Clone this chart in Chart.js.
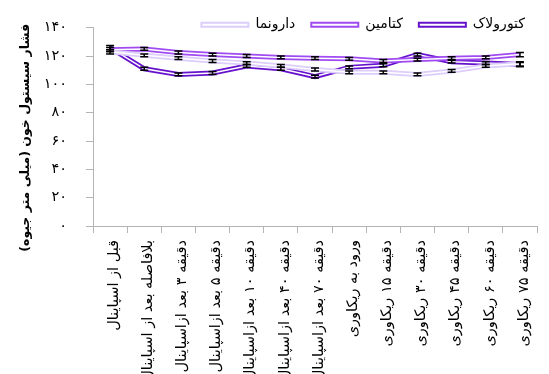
<!DOCTYPE html>
<html lang="fa">
<head>
<meta charset="utf-8">
<script src="https://cdn.jsdelivr.net/npm/chart.js@4.4.1/dist/chart.umd.min.js"></script>
<style>
  html, body { margin: 0; padding: 0; background: #ffffff; }
  canvas { display: block; }
</style>
</head>
<body>
<canvas id="bp" width="549" height="374" dir="rtl"></canvas>
<script>
// Time points of the measurement
const categories = [
  'قبل از اسپاینال',
  'بلافاصله بعد از اسپاینال',
  'دقیقه ۳ بعد ازاسپاینال',
  'دقیقه ۵ بعد ازاسپاینال',
  'دقیقه ۱۰ بعد ازاسپاینال',
  'دقیقه ۴۰ بعد ازاسپاینال',
  'دقیقه ۷۰ بعد ازاسپاینال',
  'ورود به ریکاوری',
  'دقیقه ۱۵ ریکاوری',
  'دقیقه ۳۰ ریکاوری',
  'دقیقه ۴۵ ریکاوری',
  'دقیقه ۶۰ ریکاوری',
  'دقیقه ۷۵ ریکاوری'
];

// Mean systolic pressure (mmHg) per group
const ketorolac = [126, 111, 107, 108, 113, 111, 105.5, 112, 113.5, 121, 116, 115, 114];
const ketamine  = [124.5, 125, 122.5, 121, 120, 119, 118.5, 118, 116.5, 117.5, 118.5, 119, 121];
const placebo   = [123, 120.5, 118.5, 116.5, 115, 113, 110.5, 108.5, 108.5, 107, 109.5, 113, 114.5];

// Error bar half-lengths (mmHg)
const ketorolacErr = [1.5, 1, 1, 1, 1, 1, 1, 1, 1, 1, 1, 1, 1.5];
const ketamineErr  = [1.5, 1, 1, 1, 1, 1, 1, 1, 1, 1, 1, 1, 1.5];
const placeboErr   = [1.5, 1, 1, 1, 1, 1, 1, 1, 1, 1, 1, 1, 1.5];

const seriesNames = ['کتورولاک', 'کتامین', 'دارونما'];
const yTickLabels = ['۰', '۲۰', '۴۰', '۶۰', '۸۰', '۱۰۰', '۱۲۰', '۱۴۰'];
const yAxisTitle = 'فشار سیستول خون (میلی متر جیوه)';

const FONT = "'DejaVu Sans', sans-serif";
const groups = [
  { name: seriesNames[0], data: ketorolac, err: ketorolacErr, color: '#6612cc' },
  { name: seriesNames[1], data: ketamine,  err: ketamineErr,  color: '#a04af2' },
  { name: seriesNames[2], data: placebo,   err: placeboErr,   color: '#dccdfb' }
];

// Each group is a wide coloured stroke with a thin white stroke on top (double line)
const datasets = [];
groups.forEach((g, i) => {
  const base = 10 - i * 2;
  datasets.push({
    label: g.name, data: g.data, borderColor: g.color, backgroundColor: '#ffffff',
    borderWidth: 5, pointRadius: 0, tension: 0, order: base, errors: g.err, main: true
  });
  datasets.push({
    label: '', data: g.data, borderColor: '#ffffff',
    borderWidth: 1.5, pointRadius: 0, tension: 0, order: base - 1
  });
});

const errorBars = {
  id: 'errorBars',
  afterDatasetsDraw(chart) {
    const ctx = chart.ctx;
    const y = chart.scales.y;
    ctx.save();
    ctx.strokeStyle = '#000000';
    ctx.lineWidth = 1.5;
    chart.data.datasets.forEach((ds, di) => {
      if (!ds.main) return;
      const meta = chart.getDatasetMeta(di);
      meta.data.forEach((pt, i) => {
        const top = y.getPixelForValue(ds.data[i] + ds.errors[i]);
        const bot = y.getPixelForValue(ds.data[i] - ds.errors[i]);
        ctx.beginPath();
        ctx.moveTo(pt.x, top); ctx.lineTo(pt.x, bot);
        ctx.moveTo(pt.x - 4, top); ctx.lineTo(pt.x + 4, top);
        ctx.moveTo(pt.x - 4, bot); ctx.lineTo(pt.x + 4, bot);
        ctx.stroke();
      });
    });
    ctx.restore();
  }
};

// The legend row sits tight above the plot: nudge it right and let its
// glyphs hang past the box bottom without being clipped.
const legendPlacement = {
  id: 'legendPlacement',
  afterLayout(chart) {
    chart.legend.right += 4;
    chart.legend.bottom += 12;
  }
};

new Chart(document.getElementById('bp'), {
  type: 'line',
  data: { labels: categories, datasets },
  plugins: [errorBars, legendPlacement],
  options: {
    responsive: false,
    animation: false,
    devicePixelRatio: 1,
    layout: { padding: { top: 0, right: 12, bottom: 0, left: 0 } },
    plugins: {
      tooltip: { enabled: false },
      legend: {
        position: 'top',
        align: 'end',
        maxHeight: 26,
        labels: {
          boxWidth: 47,
          boxHeight: 4,
          padding: 16,
          color: '#000000',
          font: { family: FONT, size: 14 },
          generateLabels(chart) {
            return chart.data.datasets
              .map((ds, i) => ({
                text: ds.label, fillStyle: '#ffffff', strokeStyle: ds.borderColor,
                lineWidth: 2, datasetIndex: i, hidden: false, fontColor: '#000000'
              }))
              .filter(it => it.text)
              .reverse();
          }
        }
      }
    },
    scales: {
      x: {
        offset: true,
        grid: { offset: true, drawOnChartArea: false, drawTicks: true, tickLength: 7, color: '#b4b4b4' },
        border: { color: '#b4b4b4', width: 1 },
        ticks: {
          autoSkip: false, minRotation: 90, maxRotation: 90, padding: 7, labelOffset: 4,
          color: '#000000', font: { family: FONT, size: 14.5 }
        },
        afterFit(scale) { scale.height = 148; }
      },
      y: {
        min: 0, max: 140,
        grid: { drawOnChartArea: false, drawTicks: true, tickLength: 7, color: '#b4b4b4' },
        border: { color: '#b4b4b4', width: 1 },
        ticks: {
          stepSize: 20, padding: 19, color: '#000000',
          font: { family: FONT, size: 14.5 },
          callback: (v) => yTickLabels[Math.round(v / 20)]
        },
        title: {
          display: true,
          // leading no-break spaces push the rotated title a little lower
          text: '\u00a0\u00a0\u00a0\u00a0\u00a0' + yAxisTitle,
          color: '#000000',
          font: { family: FONT, size: 12.5, weight: 'bold' },
          padding: { top: 18, bottom: 0 }
        },
        afterFit(scale) { scale.width = 93; }
      }
    }
  }
});
</script>
</body>
</html>
